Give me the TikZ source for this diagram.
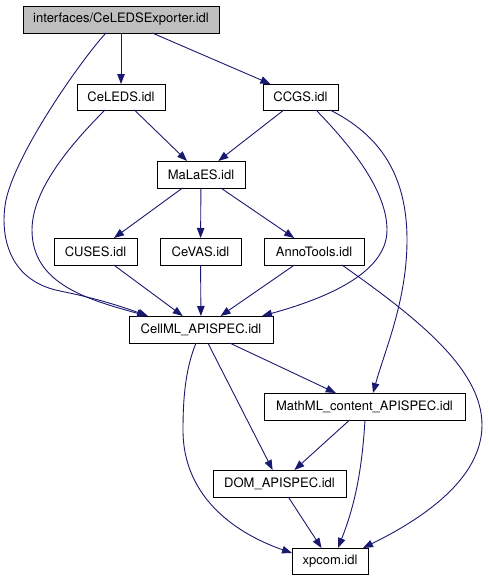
\documentclass[tikz,border=0pt]{standalone}
\usepackage{fontspec}
\setmainfont{TeX Gyre Heros}
\usetikzlibrary{arrows.meta,calc}
\definecolor{edgecol}{HTML}{191970}
\definecolor{rootfill}{HTML}{BFBFBF}
\tikzset{
  box/.style={draw=black, line width=0.9pt, fill=white, inner sep=0pt, outer sep=0pt,
    font=\fontsize{13}{15}\selectfont, anchor=center},
  edge/.style={draw=edgecol, line width=0.9pt, -{Triangle[length=10pt,width=7.5pt]}, fill=none},
}
\begin{document}
\begin{tikzpicture}[x=1pt,y=-1pt]
\useasboundingbox (0,0) rectangle (489,581);
\node[box, fill=rootfill, minimum width=196pt, minimum height=27pt] (root) at (121,19.5) {interfaces/CeLEDSExporter.idl};
\node[box, minimum width=88pt, minimum height=26pt] (celeds) at (121,97) {CeLEDS.idl};
\node[box, minimum width=75pt, minimum height=26pt] (ccgs) at (300.5,97) {CCGS.idl};
\node[box, minimum width=88pt, minimum height=27pt] (malaes) at (201,174.5) {MaLaES.idl};
\node[box, minimum width=83pt, minimum height=27pt] (cuses) at (95.5,251.5) {CUSES.idl};
\node[box, minimum width=81pt, minimum height=27pt] (cevas) at (200.5,251.5) {CeVAS.idl};
\node[box, minimum width=100pt, minimum height=27pt] (anno) at (314,251.5) {AnnoTools.idl};
\node[box, minimum width=144pt, minimum height=27pt] (cellml) at (201,329.5) {CellML\_APISPEC.idl};
\node[box, minimum width=201pt, minimum height=27pt] (mathml) at (364.5,406.5) {MathML\_content\_APISPEC.idl};
\node[box, minimum width=133pt, minimum height=27pt] (dom) at (279.5,483.5) {DOM\_APISPEC.idl};
\node[box, minimum width=76pt, minimum height=26pt] (xpcom) at (330,561) {xpcom.idl};

% straight edges
\draw[edge] (root) -- (celeds);
\draw[edge] (root) -- (ccgs);
\draw[edge] (celeds) -- (malaes);
\draw[edge] (ccgs) -- (malaes);
\draw[edge] (malaes) -- (cuses);
\draw[edge] (malaes) -- (cevas);
\draw[edge] (malaes) -- (anno);
\draw[edge] (cuses) -- (cellml);
\draw[edge] (cevas) -- (cellml);
\draw[edge] (anno) -- (cellml);
\draw[edge] (cellml) -- (mathml);
\draw[edge] (cellml) -- (dom);
\draw[edge] (mathml) -- (dom);
\draw[edge] (dom) -- (xpcom);

% curved edges
\draw[edge] ($(root.south west)+(83,0)$) .. controls (85,55) and (17,150) .. (6,200)
  .. controls (0,230) and (5,280) .. (60,291) .. controls (95,298) and (120,306) .. ($(cellml.north west)+(19,0)$);
\draw[edge] ($(celeds.south west)+(28,0)$) .. controls (70,145) and (32,190) .. (32,230)
  .. controls (32,285) and (90,300) .. ($(cellml.north west)+(18,0)$);
\draw[edge] ($(ccgs.south west)+(53,0)$) .. controls (350,145) and (387,190) .. (387,230)
  .. controls (387,275) and (320,300) .. ($(cellml.north east)+(-11,0)$);
\draw[edge] ($(ccgs.south west)+(67,0)$) .. controls (380,135) and (407,175) .. (407,240)
  .. controls (407,300) and (385,350) .. ($(mathml.north west)+(109,0)$);
\draw[edge] ($(anno.south west)+(78,0)$) .. controls (420,320) and (482,370) .. (482,425)
  .. controls (482,480) and (420,520) .. ($(xpcom.north east)+(-5,0)$);
\draw[edge] ($(cellml.south west)+(67,0)$) .. controls (185,370) and (183,400) .. (183,430)
  .. controls (183,500) and (240,535) .. ($(xpcom.north west)+(0,5)$);
\draw[edge] ($(mathml.south west)+(101,0)$) .. controls (362,470) and (355,505) .. ($(xpcom.north west)+(46,0)$);
\end{tikzpicture}
\end{document}
